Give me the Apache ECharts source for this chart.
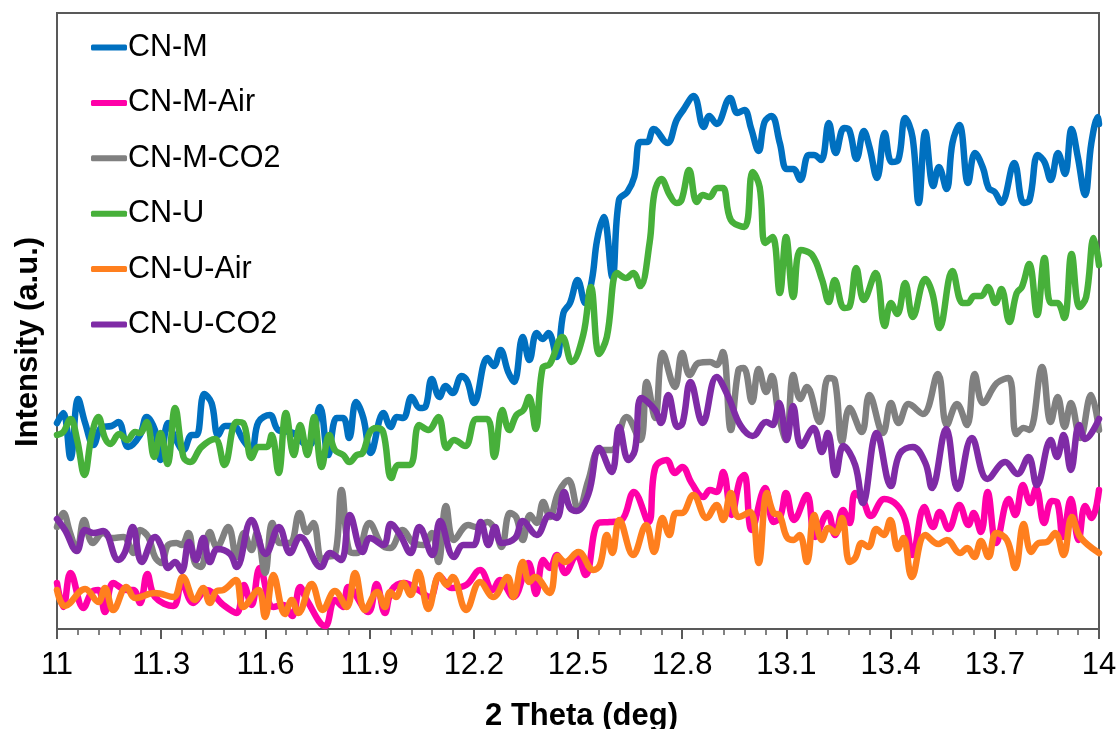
<!DOCTYPE html>
<html>
<head>
<meta charset="utf-8">
<style>html,body{margin:0;padding:0;background:#fff}#c{width:1118px;height:729px}</style>
<script src="https://cdn.jsdelivr.net/npm/echarts@6/dist/echarts.min.js"></script>
</head>
<body>
<div id="c"></div>
<script>
const cnM = [[11,206],[11.018,216],[11.039,171],[11.061,230],[11.081,206],[11.105,184],[11.129,202],[11.157,203],[11.177,207],[11.205,182],[11.239,194],[11.258,212],[11.282,199],[11.298,169],[11.32,206],[11.34,191],[11.364,179],[11.388,194],[11.402,194],[11.424,235],[11.445,226],[11.464,194],[11.484,203],[11.508,203],[11.536,189],[11.56,179],[11.58,207],[11.613,214],[11.637,199],[11.68,196],[11.709,186],[11.728,184],[11.757,222],[11.781,174],[11.805,211],[11.824,211],[11.841,191],[11.861,227],[11.882,211],[11.903,176],[11.94,216],[11.961,202],[11.978,212],[11.997,211],[12.021,232],[12.045,221],[12.06,222],[12.079,250],[12.101,232],[12.119,243],[12.139,236],[12.165,253],[12.181,248],[12.201,226],[12.239,271],[12.258,263],[12.277,279],[12.299,257],[12.316,247],[12.341,292],[12.36,269],[12.381,296],[12.398,290],[12.415,296],[12.439,272],[12.458,316],[12.477,326],[12.499,349],[12.521,326],[12.54,349],[12.555,389],[12.574,412],[12.599,352],[12.618,429],[12.642,437],[12.662,452],[12.679,487],[12.699,487],[12.718,500],[12.757,486],[12.784,509],[12.803,519],[12.833,533],[12.862,502],[12.878,513],[12.899,505],[12.938,531],[12.959,516],[12.979,519],[12.998,501],[13.02,478],[13.037,507],[13.057,513],[13.081,486],[13.101,460],[13.12,460],[13.14,449],[13.164,474],[13.179,474],[13.2,469],[13.222,506],[13.242,476],[13.266,501],[13.281,499],[13.302,470],[13.323,498],[13.339,482],[13.361,451],[13.383,496],[13.403,467],[13.422,469],[13.442,511],[13.463,492],[13.481,426],[13.5,497],[13.523,443],[13.539,462],[13.561,440],[13.578,486],[13.598,504],[13.623,446],[13.643,476],[13.666,461],[13.682,441],[13.7,437],[13.719,426],[13.756,466],[13.783,426],[13.8,429],[13.824,474],[13.843,467],[13.861,449],[13.882,476],[13.902,455],[13.921,500],[13.939,472],[13.96,434],[13.978,486],[13.997,512],[14,505]];
const cnMAir = [[11,46],[11.018,22],[11.039,56],[11.076,21],[11.1,37],[11.119,39],[11.138,17],[11.162,46],[11.2,39],[11.22,39],[11.239,26],[11.26,55],[11.282,32],[11.335,23],[11.359,46],[11.392,26],[11.431,39],[11.479,24],[11.517,16],[11.538,44],[11.56,24],[11.584,61],[11.623,22],[11.652,24],[11.677,13],[11.7,42],[11.719,29],[11.772,3],[11.8,29],[11.824,22],[11.839,42],[11.896,17],[11.92,45],[11.944,16],[11.964,39],[12,46],[12.04,39],[12.074,32],[12.101,53],[12.136,41],[12.178,44],[12.218,59],[12.254,39],[12.275,49],[12.314,32],[12.357,66],[12.379,35],[12.4,69],[12.419,61],[12.439,74],[12.463,56],[12.496,74],[12.522,54],[12.559,106],[12.592,107],[12.626,109],[12.661,137],[12.703,107],[12.722,161],[12.755,169],[12.779,156],[12.8,162],[12.827,146],[12.861,132],[12.88,139],[12.899,137],[12.918,157],[12.942,114],[12.966,149],[12.979,154],[13,99],[13.039,141],[13.063,107],[13.082,112],[13.099,136],[13.122,109],[13.159,134],[13.183,92],[13.219,116],[13.24,94],[13.263,119],[13.282,106],[13.298,136],[13.32,129],[13.343,113],[13.382,130],[13.418,124],[13.442,109],[13.463,74],[13.497,122],[13.522,102],[13.541,117],[13.567,100],[13.598,124],[13.624,104],[13.639,116],[13.66,97],[13.679,137],[13.704,86],[13.74,130],[13.759,114],[13.781,144],[13.802,126],[13.819,141],[13.842,106],[13.864,128],[13.879,127],[13.896,92],[13.919,130],[13.941,89],[13.96,123],[13.979,111],[14,139]];
const cnMCO2 = [[11,102],[11.018,116],[11.037,97],[11.057,79],[11.078,109],[11.103,86],[11.133,96],[11.157,91],[11.191,92],[11.22,76],[11.239,99],[11.263,92],[11.282,72],[11.301,66],[11.32,84],[11.344,86],[11.359,84],[11.378,96],[11.397,66],[11.414,62],[11.44,97],[11.46,82],[11.493,102],[11.517,72],[11.538,96],[11.56,79],[11.575,96],[11.599,56],[11.62,106],[11.642,86],[11.671,86],[11.698,116],[11.719,97],[11.738,106],[11.762,69],[11.776,72],[11.8,74],[11.819,139],[11.843,77],[11.863,76],[11.899,106],[11.935,84],[11.959,81],[11.995,99],[12.026,86],[12.055,84],[12.079,96],[12.098,67],[12.12,123],[12.143,89],[12.184,104],[12.208,102],[12.239,107],[12.261,99],[12.28,82],[12.304,116],[12.322,112],[12.341,89],[12.362,114],[12.381,106],[12.4,127],[12.419,112],[12.443,136],[12.472,149],[12.501,119],[12.53,149],[12.563,179],[12.597,179],[12.64,212],[12.679,189],[12.698,247],[12.722,211],[12.744,276],[12.779,242],[12.8,276],[12.822,254],[12.847,266],[12.88,267],[12.899,264],[12.917,277],[12.94,199],[12.962,259],[12.977,261],[13.001,227],[13.02,260],[13.042,237],[13.058,253],[13.077,216],[13.099,189],[13.12,254],[13.14,230],[13.159,242],[13.195,207],[13.221,251],[13.239,249],[13.26,187],[13.282,221],[13.317,197],[13.339,234],[13.378,196],[13.401,226],[13.423,206],[13.452,225],[13.493,215],[13.536,255],[13.562,204],[13.591,225],[13.62,204],[13.642,255],[13.666,226],[13.706,246],[13.74,251],[13.762,195],[13.783,201],[13.8,199],[13.836,262],[13.861,207],[13.881,232],[13.901,202],[13.919,226],[13.946,191],[13.977,234],[14,199]];
const cnU = [[11,194],[11.018,197],[11.039,210],[11.058,189],[11.079,154],[11.1,194],[11.119,212],[11.138,191],[11.154,185],[11.179,195],[11.202,189],[11.225,197],[11.239,196],[11.258,207],[11.28,172],[11.298,196],[11.318,165],[11.34,221],[11.364,172],[11.383,167],[11.416,182],[11.455,190],[11.482,164],[11.517,207],[11.536,206],[11.56,171],[11.58,182],[11.604,182],[11.618,194],[11.638,156],[11.659,216],[11.682,174],[11.7,204],[11.721,174],[11.74,212],[11.762,162],[11.784,194],[11.8,179],[11.824,174],[11.842,167],[11.863,174],[11.88,176],[11.901,197],[11.92,201],[11.939,197],[11.963,151],[11.983,164],[12.016,164],[12.043,204],[12.069,199],[12.098,212],[12.122,181],[12.143,189],[12.175,183],[12.208,210],[12.239,210],[12.259,172],[12.282,219],[12.302,199],[12.323,214],[12.343,219],[12.359,232],[12.378,200],[12.398,261],[12.419,265],[12.455,292],[12.482,267],[12.515,294],[12.537,342],[12.561,275],[12.583,292],[12.613,356],[12.638,351],[12.659,356],[12.679,343],[12.706,386],[12.72,436],[12.74,450],[12.764,434],[12.784,426],[12.798,429],[12.82,459],[12.842,427],[12.859,434],[12.878,432],[12.901,441],[12.917,441],[12.94,409],[12.979,402],[13.003,457],[13.023,442],[13.039,386],[13.06,392],[13.081,336],[13.099,392],[13.12,332],[13.141,379],[13.174,374],[13.203,349],[13.222,327],[13.239,349],[13.266,321],[13.281,322],[13.301,361],[13.323,329],[13.357,356],[13.383,303],[13.401,326],[13.419,315],[13.442,346],[13.464,312],[13.5,350],[13.52,336],[13.541,301],[13.578,358],[13.607,326],[13.622,326],[13.641,333],[13.661,333],[13.68,342],[13.702,326],[13.719,340],[13.742,307],[13.763,336],[13.778,342],[13.799,365],[13.822,314],[13.843,371],[13.861,326],[13.88,326],[13.9,311],[13.921,375],[13.944,322],[13.963,332],[13.985,391],[14,364]];
const cnUAir = [[11,39],[11.023,23],[11.081,40],[11.119,27],[11.138,41],[11.162,19],[11.2,42],[11.225,31],[11.282,36],[11.335,32],[11.362,52],[11.397,29],[11.421,41],[11.44,26],[11.46,38],[11.479,39],[11.515,49],[11.536,22],[11.58,39],[11.599,12],[11.623,54],[11.656,15],[11.676,29],[11.695,16],[11.733,45],[11.765,19],[11.8,38],[11.834,22],[11.858,56],[11.887,19],[11.922,37],[11.944,22],[11.959,37],[11.976,32],[11.997,46],[12.018,34],[12.04,57],[12.069,20],[12.101,54],[12.122,44],[12.139,52],[12.178,19],[12.218,47],[12.256,32],[12.297,52],[12.314,32],[12.341,67],[12.36,47],[12.376,52],[12.418,36],[12.442,73],[12.463,67],[12.501,77],[12.544,59],[12.563,64],[12.583,94],[12.599,76],[12.619,109],[12.659,74],[12.696,104],[12.719,77],[12.743,111],[12.763,94],[12.782,116],[12.799,116],[12.832,134],[12.87,111],[12.899,124],[12.918,109],[12.94,136],[12.962,112],[12.996,117],[13.02,66],[13.044,136],[13.063,116],[13.08,114],[13.101,92],[13.12,89],[13.138,94],[13.159,67],[13.18,114],[13.202,89],[13.221,101],[13.242,96],[13.26,111],[13.282,67],[13.298,71],[13.317,86],[13.336,82],[13.359,100],[13.38,94],[13.399,109],[13.421,80],[13.437,91],[13.461,52],[13.5,94],[13.538,85],[13.562,89],[13.6,76],[13.621,81],[13.641,72],[13.66,88],[13.682,72],[13.704,96],[13.735,89],[13.759,61],[13.783,105],[13.805,77],[13.826,86],[13.85,87],[13.874,96],[13.898,74],[13.922,112],[13.946,92],[14,76]];
const cnUCO2 = [[11,110],[11.023,99],[11.057,78],[11.081,99],[11.105,96],[11.133,98],[11.177,69],[11.196,77],[11.218,102],[11.244,67],[11.282,92],[11.301,82],[11.32,61],[11.34,67],[11.359,58],[11.38,87],[11.4,69],[11.421,91],[11.44,67],[11.462,80],[11.498,75],[11.517,62],[11.56,109],[11.601,75],[11.639,102],[11.671,76],[11.7,92],[11.76,62],[11.786,76],[11.818,69],[11.843,114],[11.88,77],[11.901,91],[11.94,84],[11.961,105],[11.988,94],[12.018,76],[12.043,102],[12.081,74],[12.103,108],[12.143,72],[12.17,84],[12.199,84],[12.22,107],[12.242,84],[12.261,102],[12.28,86],[12.319,91],[12.341,108],[12.381,94],[12.419,114],[12.439,111],[12.46,137],[12.477,121],[12.496,118],[12.53,135],[12.561,181],[12.597,157],[12.619,202],[12.645,169],[12.664,179],[12.683,231],[12.722,219],[12.739,206],[12.76,234],[12.787,202],[12.801,206],[12.824,247],[12.859,206],[12.899,252],[12.933,232],[12.967,204],[13.003,193],[13.042,207],[13.06,204],[13.079,226],[13.101,189],[13.119,223],[13.143,183],[13.178,201],[13.202,177],[13.219,196],[13.242,154],[13.264,183],[13.298,164],[13.32,126],[13.36,196],[13.401,143],[13.426,175],[13.464,182],[13.5,166],[13.519,141],[13.56,200],[13.593,140],[13.634,191],[13.679,150],[13.73,167],[13.765,155],[13.797,172],[13.821,144],[13.861,189],[13.879,172],[13.898,194],[13.919,159],[13.943,204],[13.96,190],[14,210]];

const seriesNames = ['CN-M','CN-M-Air','CN-M-CO2','CN-U','CN-U-Air','CN-U-CO2'];
const seriesData = [cnM,cnMAir,cnMCO2,cnU,cnUAir,cnUCO2];
const seriesColors = ['#0070C0','#FF00A8','#808080','#47B03A','#FF7F1E','#7F2BA6'];
const axisColor = '#595959';
const font = '"Liberation Sans", Arial, sans-serif';

const chart = echarts.init(document.getElementById('c'), null, {renderer:'canvas'});
chart.setOption({
  animation:false,
  backgroundColor:'#fff',
  grid:{left:57,right:19,top:13,bottom:100,show:true,borderColor:axisColor,borderWidth:2,backgroundColor:'transparent',outerBoundsMode:'none',containLabel:false},
  legend:{
    orient:'vertical',left:86,top:27,itemWidth:36,itemHeight:6,itemGap:24.4,icon:'roundRect',
    textStyle:{fontFamily:font,fontSize:30.5,color:'#000',padding:[0,0,0,-4]},
    data:seriesNames
  },
  xAxis:{
    type:'value',min:11,max:14,interval:0.3,
    name:'2 Theta (deg)',nameLocation:'middle',nameGap:72,
    nameTextStyle:{fontFamily:font,fontSize:31,fontWeight:'bold',color:'#000',padding:[0,0,0,7]},
    axisLine:{show:true,lineStyle:{color:axisColor,width:2}},
    axisTick:{show:true,length:10,lineStyle:{color:axisColor,width:2}},
    minorTick:{show:true,splitNumber:5,length:6,lineStyle:{color:axisColor,width:1.5}},
    splitLine:{show:false},minorSplitLine:{show:false},
    axisLabel:{fontFamily:font,fontSize:31,color:'#000',margin:21,showMinLabel:true,showMaxLabel:true,
      formatter:v=>String(Math.round(v*10)/10)}
  },
  yAxis:{
    type:'value',min:0,max:616,
    name:'Intensity (a.u.)',nameLocation:'middle',nameRotate:90,nameGap:13,
    nameTextStyle:{fontFamily:font,fontSize:31,fontWeight:'bold',color:'#000',padding:[0,42,0,0]},
    axisLine:{show:true,lineStyle:{color:axisColor,width:2}},
    axisTick:{show:false},axisLabel:{show:false},splitLine:{show:false}
  },
  series:seriesNames.map((n,i)=>({
    name:n,type:'line',data:seriesData[i],smooth:0.4,showSymbol:false,clip:true,
    lineStyle:{color:seriesColors[i],width:6.5,cap:'round',join:'round'},
    itemStyle:{color:seriesColors[i]},
    emphasis:{disabled:true}
  }))
});
</script>
</body>
</html>
